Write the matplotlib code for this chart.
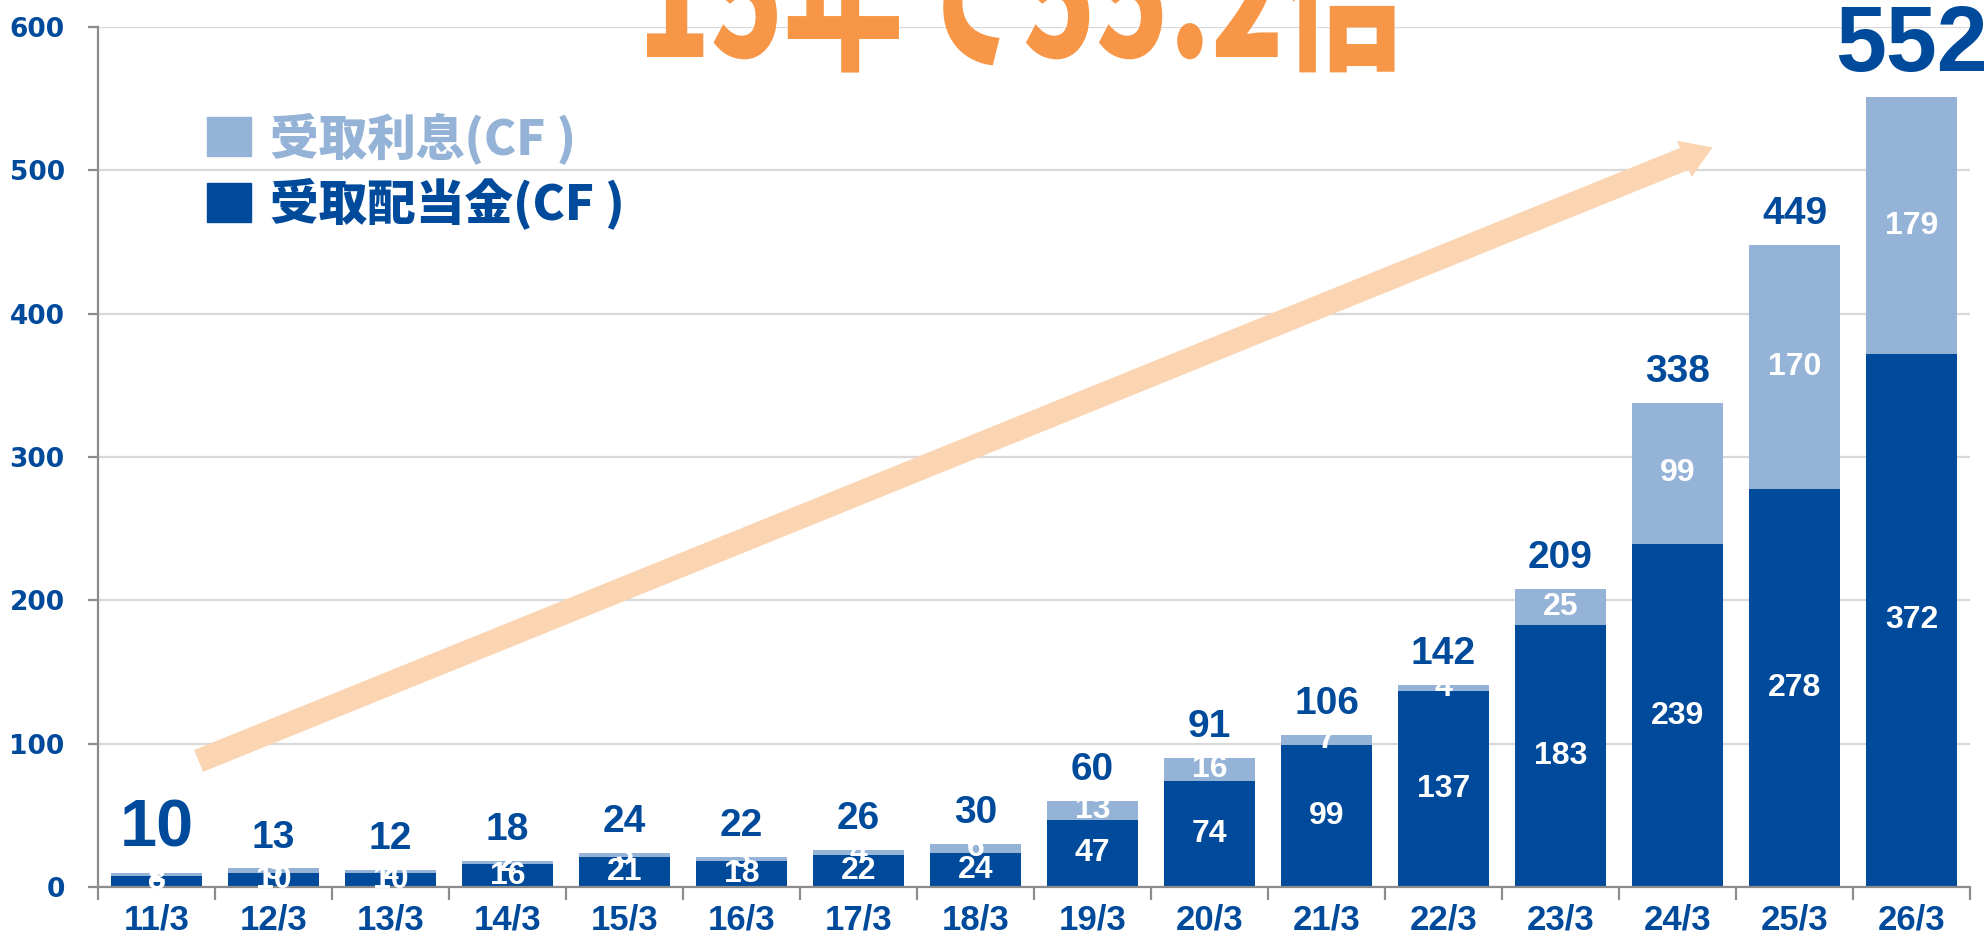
import matplotlib
matplotlib.use("Agg")
from matplotlib import pyplot as plt
from matplotlib.font_manager import FontProperties
from matplotlib.textpath import TextPath
from matplotlib.patches import PathPatch, Patch
from matplotlib.transforms import Affine2D
import numpy as np

# fiscal periods (year/month)
periods = ["11/3", "12/3", "13/3", "14/3", "15/3", "16/3", "17/3", "18/3",
           "19/3", "20/3", "21/3", "22/3", "23/3", "24/3", "25/3", "26/3"]
dividends = [8, 10, 10, 16, 21, 18, 22, 24, 47, 74, 99, 137, 183, 239, 278, 372]
interest = [2, 3, 2, 2, 3, 3, 4, 6, 13, 16, 7, 4, 25, 99, 170, 179]
totals = [10, 13, 12, 18, 24, 22, 26, 30, 60, 91, 106, 142, 209, 338, 449, 552]
series_names = ["受取利息(CF )", "受取配当金(CF )"]
headline = "15年で55.2倍"

DARK = "#004A9B"
LIGHT = "#95B3D7"
ORANGE = "#F79646"
PEACH = "#FBD4B2"
GRID = "#D9D9D9"
SPINE = "#8C8C8C"

W, H = 1988, 933
fig = plt.figure(figsize=(W / 100, H / 100), dpi=100)
ax = fig.add_axes([98 / W, 46 / H, (1970 - 98) / W, (887 - 27) / H])

x = np.arange(len(periods))
bw = 0.77
ax.bar(x, dividends, bw, color=DARK, zorder=2)
ax.bar(x, interest, bw, bottom=dividends, color=LIGHT, zorder=2)

inner = dict(color="white", ha="center", va="center", fontsize=23,
             family="Liberation Sans", weight="bold", zorder=4)
for i in x:
    d, v = dividends[i], interest[i]
    ax.text(i, d / 2, str(d), **inner)
    ax.text(i, d + v / 2, str(v), **inner)

# totals above the bars, first and last highlighted
for i in x:
    top = dividends[i] + interest[i]
    if i == 0:
        size, off = 48, 19
    elif i == len(x) - 1:
        size, off = 66, 19
    else:
        size, off = 28, 15
    ax.annotate(str(totals[i]), (i, top), xytext=(0, off),
                textcoords="offset points", ha="center", va="baseline",
                fontsize=size, family="Liberation Sans", weight="bold",
                color=DARK, zorder=5, annotation_clip=False)

# growth arrow
ax.annotate("", xy=(13.3, 516), xytext=(0.36, 88),
            arrowprops=dict(arrowstyle="simple,head_width=1.4,head_length=1.1,tail_width=0.85",
                            color=PEACH, shrinkA=0, shrinkB=0, mutation_scale=20, lw=0),
            zorder=1.5)

ax.set_xlim(-0.5, len(x) - 0.5)
ax.set_ylim(0, 600)
ax.set_yticks(np.arange(0, 601, 100))
ax.yaxis.grid(True, color=GRID, lw=1.6, zorder=0)
ax.set_axisbelow(True)
for s in ["top", "right"]:
    ax.spines[s].set_visible(False)
for s in ["left", "bottom"]:
    ax.spines[s].set_color(SPINE)
    ax.spines[s].set_linewidth(1.6)

ax.set_xticks(x)
ax.set_xticklabels(periods, family="Liberation Sans", weight="bold", fontsize=25, color=DARK)
ax.set_xticks(np.arange(-0.5, len(x)), minor=True)
ax.tick_params(axis="x", which="major", length=0, pad=12)
ax.tick_params(axis="x", which="minor", length=9, width=1.6, color=SPINE, direction="out")
ax.tick_params(axis="y", length=7, width=1.6, color=SPINE, pad=17)
for lab in ax.get_yticklabels():
    lab.set_fontsize(19)
    lab.set_fontweight("heavy")
    lab.set_color(DARK)

# legend
handles = [Patch(color=LIGHT), Patch(color=DARK)]
ax.legend(handles, series_names, loc="upper left",
          bbox_to_anchor=(163 / W, 1 - 68 / H), bbox_transform=fig.transFigure,
          frameon=False, prop=FontProperties(family="Noto Sans CJK JP", weight="black", size=35),
          handlelength=0.9, handleheight=0.85, handletextpad=0.4, labelspacing=0.28,
          labelcolor=[LIGHT, DARK])

# headline, condensed glyphs, partly cut by the top edge
prop = FontProperties(family="Noto Sans CJK JP", weight="black")
tp = TextPath((0, 0), headline, size=100, prop=prop)
ext = tp.get_extents()
cap = TextPath((0, 0), "1", size=100, prop=prop).get_extents().height
sx = 754 / ext.width
sy = 122 / cap
tr = Affine2D().scale(sx, sy).translate(647 - ext.x0 * sx, H - 57)
fig.add_artist(PathPatch(tp, transform=tr, facecolor=ORANGE, lw=0))

fig.savefig("out.png", dpi=100)
